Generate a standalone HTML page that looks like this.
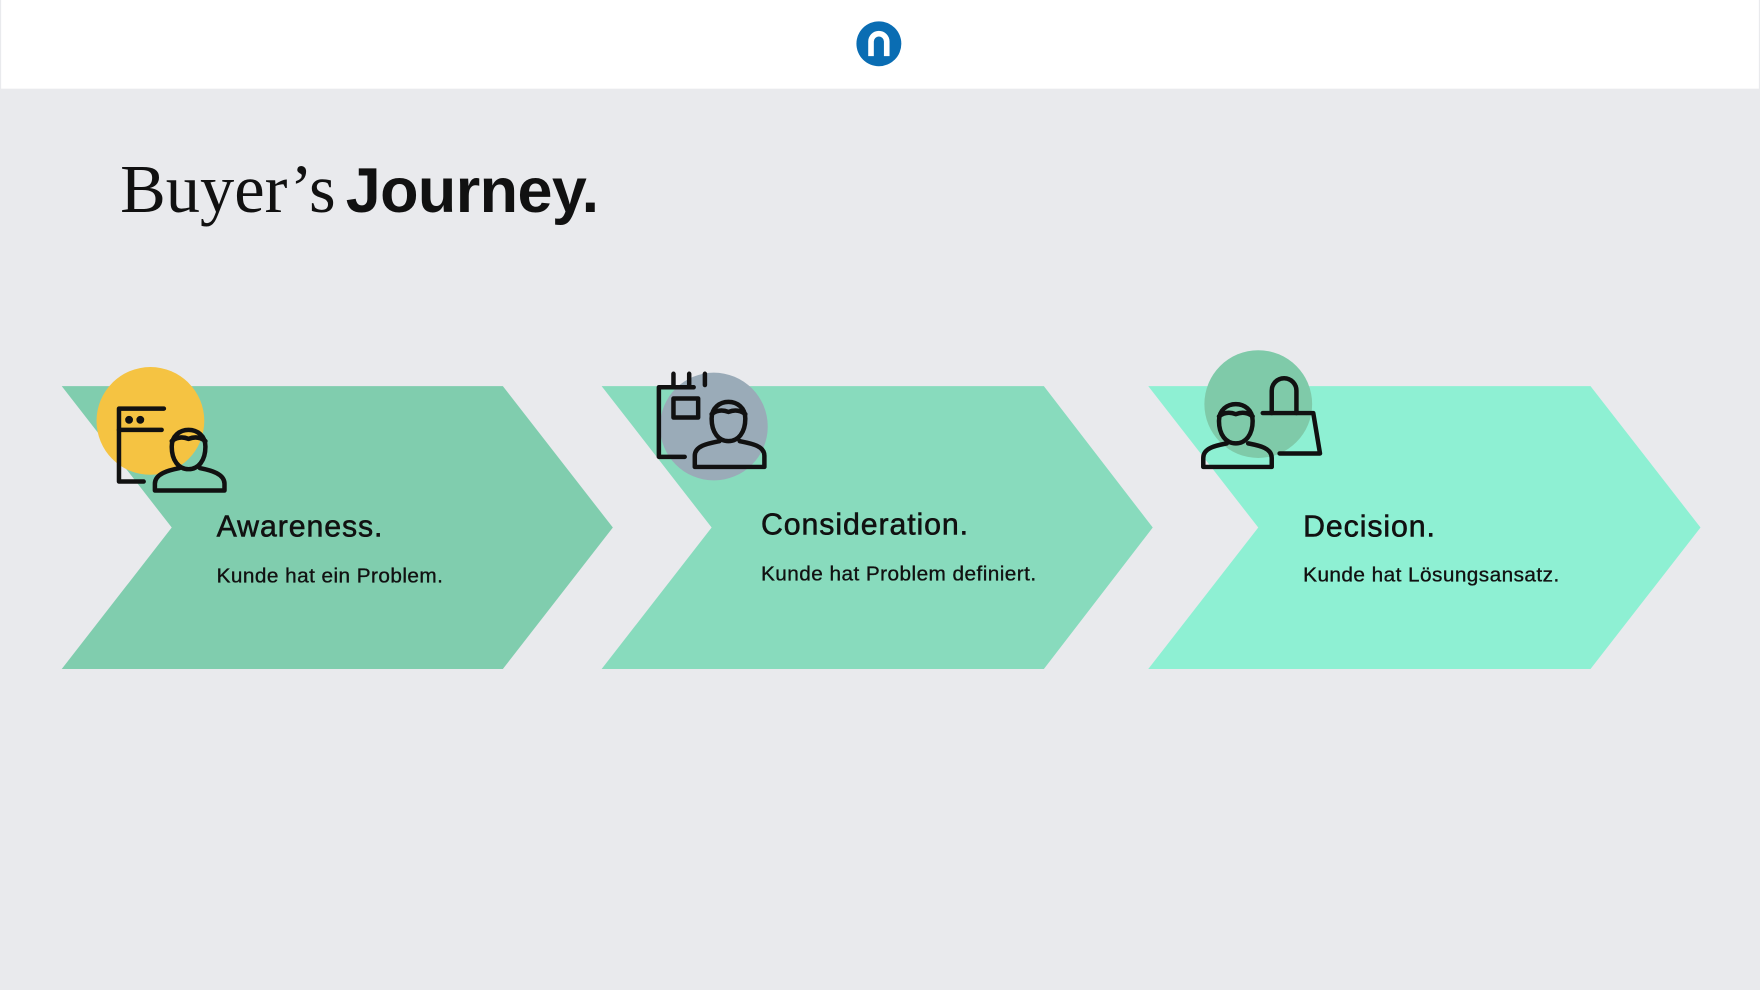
<!DOCTYPE html>
<html><head><meta charset="utf-8"><style>
html,body{margin:0;padding:0;background:#e9eaed;}
svg{display:block}
</style></head><body>
<svg width="1760" height="990" viewBox="0 0 1568 882" preserveAspectRatio="none" xmlns="http://www.w3.org/2000/svg">
<rect width="1568" height="882" fill="#e9eaed"/>
<rect x="1" y="0" width="1566" height="79" fill="#ffffff"/>
<circle cx="783" cy="39" r="20" fill="#0a6db3"/>
<path d="M776 50 V37 a7 7 0 0 1 14 0 V50" fill="none" stroke="#fff" stroke-width="5"/>

<text x="107" y="189" font-family="Liberation Serif, serif" font-size="61" fill="#111">Buyer’s</text>
<text x="308" y="189" font-family="Liberation Sans, sans-serif" font-weight="bold" font-size="56" letter-spacing="-0.5" fill="#111">Journey.</text>

<polygon points="55,344 448,344 546,470 448,596 55,596 153,470" fill="#80cdae"/>
<polygon points="536,344 930,344 1027,470 930,596 536,596 634,470" fill="#88dbbd"/>
<polygon points="1023,344 1417,344 1515,470 1417,596 1023,596 1121,470" fill="#8ef0d3"/>

<circle cx="134" cy="375" r="48" fill="#f5c342"/>
<circle cx="636" cy="380" r="48" fill="#9aabb8"/>
<circle cx="1121" cy="360" r="48" fill="#7fcaa9"/>

<g fill="none" stroke="#111" stroke-width="4" stroke-linecap="round" stroke-linejoin="round">
<path d="M146 364 H106 V429 H128"/>
<path d="M106 383 H144"/>
<circle cx="115" cy="374" r="1.5" fill="#111"/><circle cx="125" cy="374" r="1.5" fill="#111"/>
<path d="M153 398 c0 -20 30 -20 30 0 c0 12 -6 20 -15 20 c-9 0 -15 -8 -15 -20 z"/>
<path d="M153 393 c5 -4 10 -4 15 -2 c5 -2 10 -2 15 2"/>
<path d="M160 417 c-10 2 -22 5 -22 14 v6 h62 v-6 c0 -9 -12 -12 -22 -14"/>
<path d="M618 345 H587 V407 H610"/>
<path d="M600 333 V343 M614 333 V343 M628 333 V343"/>
<rect x="600" y="355" width="22" height="17"/>
<path d="M634 373 c0 -20 30 -20 30 0 c0 12 -6 20 -15 20 c-9 0 -15 -8 -15 -20 z"/>
<path d="M634 369 c5 -4 10 -4 15 -2 c5 -2 10 -2 15 2"/>
<path d="M641 393 c-10 2 -22 4 -22 13 v10 h62 v-10 c0 -9 -12 -11 -22 -13"/>
<path d="M1125 368 H1170 L1176 404 H1140"/>
<path d="M1133 368 V348 a11 11 0 0 1 22 0 V368"/>
<path d="M1086 375 c0 -20 30 -20 30 0 c0 12 -6 20 -15 20 c-9 0 -15 -8 -15 -20 z"/>
<path d="M1086 371 c5 -4 10 -4 15 -2 c5 -2 10 -2 15 2"/>
<path d="M1093 395 c-10 2 -21 4 -21 13 v8 h61 v-8 c0 -9 -11 -11 -21 -13"/>
</g>

<g font-family="Liberation Sans, sans-serif" fill="#111" stroke="#111" stroke-width="0.5">
<text x="193" y="478" font-size="27" letter-spacing="0.8">Awareness.</text>
<text x="678" y="476" font-size="27" letter-spacing="0.8">Consideration.</text>
<text x="1161" y="478" font-size="27" letter-spacing="0.8">Decision.</text>
</g>
<g font-family="Liberation Sans, sans-serif" fill="#111" stroke="#111" stroke-width="0.3">
<text x="193" y="519" font-size="18.5" letter-spacing="0.4">Kunde hat ein Problem.</text>
<text x="678" y="517" font-size="18.5" letter-spacing="0.4">Kunde hat Problem definiert.</text>
<text x="1161" y="518" font-size="18.5" letter-spacing="0.4">Kunde hat Lösungsansatz.</text>
</g>
</svg>
</body></html>
